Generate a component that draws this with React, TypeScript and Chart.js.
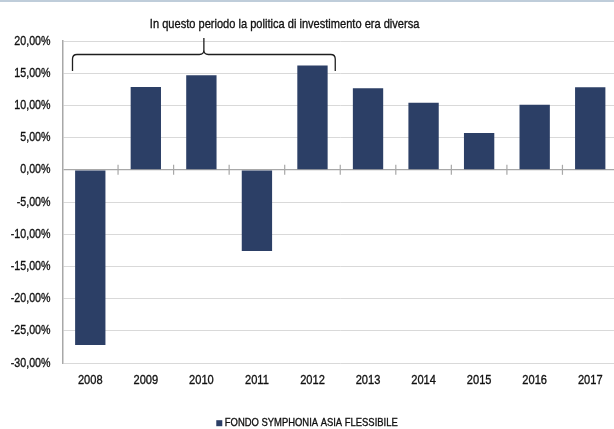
import React, { useEffect, useRef } from 'react';
import { Chart, registerables } from 'chart.js';

Chart.register(...registerables);

// ---- data ----
const categories = ['2008', '2009', '2010', '2011', '2012', '2013', '2014', '2015', '2016', '2017'];
const fundValues = [-27.2, 12.85, 14.7, -12.6, 16.2, 12.65, 10.4, 5.7, 10.1, 12.8];
const seriesLabel = 'FONDO SYMPHONIA ASIA FLESSIBILE';
const noteText = 'In questo periodo la politica di investimento era diversa';
const noteFrom = '2008';
const noteTo = '2012';
const yMin = -30;
const yMax = 20;
const yStep = 5;

// ---- styles ----
const FONT = "'Liberation Sans', Arial, sans-serif";
const SX = 0.82; // horizontal condensing of text
const TEXT = '#111111';
const BAR = '#2c3f66';
const VIEW_W = 614;
const VIEW_H = 429;
const CANVAS_W = 618;

const fmt = (v: number) => v.toFixed(2).replace('.', ',') + '%';

function drawText(
  ctx: CanvasRenderingContext2D,
  text: string,
  x: number,
  y: number,
  align: CanvasTextAlign,
  size: number
) {
  ctx.save();
  ctx.font = `${size}px ${FONT}`;
  ctx.fillStyle = TEXT;
  ctx.strokeStyle = TEXT;
  ctx.lineWidth = 0.35;
  ctx.textAlign = align;
  ctx.textBaseline = 'middle';
  ctx.translate(x, y);
  ctx.scale(SX, 1);
  ctx.fillText(text, 0, 0);
  ctx.strokeText(text, 0, 0);
  ctx.restore();
}

function textWidth(ctx: CanvasRenderingContext2D, text: string, size: number) {
  ctx.save();
  ctx.font = `${size}px ${FONT}`;
  const w = ctx.measureText(text).width * SX;
  ctx.restore();
  return w;
}

const topRulePlugin = {
  id: 'topRule',
  beforeDraw(chart: any) {
    const ctx = chart.ctx;
    ctx.save();
    ctx.fillStyle = '#ffffff';
    ctx.fillRect(0, 0, chart.width, chart.height);
    ctx.fillStyle = '#bfcdda';
    ctx.fillRect(0, 0, chart.width, 2);
    ctx.restore();
  },
};

const zeroTicksPlugin = {
  id: 'zeroTicks',
  beforeDatasetsDraw(chart: any) {
    const x = chart.scales.x;
    const y = chart.scales.y;
    const ctx = chart.ctx;
    const y0 = y.getPixelForValue(0);
    ctx.save();
    ctx.strokeStyle = '#a8a8a8';
    ctx.lineWidth = 1.2;
    for (let i = 1; i < categories.length; i++) {
      const px = (x.getPixelForValue(i - 1) + x.getPixelForValue(i)) / 2;
      ctx.beginPath();
      ctx.moveTo(px, y0 - 5);
      ctx.lineTo(px, y0 + 5);
      ctx.stroke();
    }
    ctx.restore();
  },
};

const tickLabelsPlugin = {
  id: 'tickLabels',
  afterDraw(chart: any) {
    const ctx = chart.ctx;
    const x = chart.scales.x;
    const y = chart.scales.y;
    const area = chart.chartArea;
    y.ticks.forEach((t: any, i: number) => {
      drawText(ctx, fmt(Number(t.value)), area.left - 12, y.getPixelForTick(i), 'right', 13);
    });
    x.ticks.forEach((t: any, i: number) => {
      drawText(ctx, String(categories[t.value]), x.getPixelForTick(i), area.bottom + 17, 'center', 13.5);
    });
  },
};

const bracePlugin = {
  id: 'brace',
  afterDraw(chart: any) {
    const x = chart.scales.x;
    const area = chart.chartArea;
    const ctx = chart.ctx;
    const cw = x.getPixelForValue(1) - x.getPixelForValue(0);
    const L = x.getPixelForValue(categories.indexOf(noteFrom)) - 0.32 * cw;
    const R = x.getPixelForValue(categories.indexOf(noteTo)) + 0.41 * cw;
    const C = (L + R) / 2;
    const yEnd = area.top + 30;
    const yLine = area.top + 13.5;
    const yPeak = area.top - 3;
    const r = 4.5;
    ctx.save();
    ctx.strokeStyle = '#1e1e1e';
    ctx.lineWidth = 1.3;
    ctx.beginPath();
    ctx.moveTo(L, yEnd);
    ctx.lineTo(L, yLine + r);
    ctx.quadraticCurveTo(L, yLine, L + r, yLine);
    ctx.lineTo(C - r, yLine);
    ctx.quadraticCurveTo(C, yLine, C, yLine - r);
    ctx.lineTo(C, yPeak);
    ctx.moveTo(C, yLine - r);
    ctx.quadraticCurveTo(C, yLine, C + r, yLine);
    ctx.lineTo(R - r, yLine);
    ctx.quadraticCurveTo(R, yLine, R, yLine + r);
    ctx.lineTo(R, yEnd);
    ctx.stroke();
    ctx.restore();

    drawText(ctx, noteText, C - 54, area.top - 17, 'left', 13.5);
  },
};

const legendPlugin = {
  id: 'customLegend',
  afterDraw(chart: any) {
    const ctx = chart.ctx;
    const label = chart.data.datasets[0].label as string;
    const size = 11.5;
    const tw = textWidth(ctx, label, size);
    const box = 6;
    const gap = 2.5;
    const total = box + gap + tw;
    const cy = chart.height - 5.8;
    const x0 = VIEW_W / 2 - total / 2;
    ctx.save();
    ctx.fillStyle = BAR;
    ctx.fillRect(x0, cy - box / 2, box, box);
    ctx.restore();
    drawText(ctx, label, x0 + box + gap, cy, 'left', size);
  },
};

export default function App() {
  const ref = useRef<HTMLCanvasElement | null>(null);

  useEffect(() => {
    if (!ref.current) return;
    const chart = new Chart(ref.current, {
      type: 'bar',
      data: {
        labels: categories,
        datasets: [
          {
            label: seriesLabel,
            data: fundValues,
            backgroundColor: BAR,
            borderWidth: 0,
            barPercentage: 0.546,
            categoryPercentage: 1,
          },
        ],
      },
      options: {
        animation: false,
        responsive: false,
        devicePixelRatio: 1,
        layout: { padding: { top: 41, left: 0, right: 0, bottom: 0 } },
        plugins: {
          legend: { display: false },
          tooltip: { enabled: false },
          title: { display: false },
        },
        scales: {
          x: {
            type: 'category',
            position: 'bottom',
            grid: { display: false, drawTicks: false },
            border: { display: false },
            ticks: { display: false },
            afterFit(scale: any) {
              scale.height = 66;
            },
          },
          y: {
            min: yMin,
            max: yMax,
            grid: {
              drawTicks: false,
              color: (c: any) => (c.tick && c.tick.value === 0 ? '#a8a8a8' : '#d9d9d9'),
              lineWidth: (c: any) => (c.tick && c.tick.value === 0 ? 1.2 : 1),
            },
            border: { display: true, color: '#a8a8a8', width: 1.5 },
            ticks: { display: false, stepSize: yStep },
            afterFit(scale: any) {
              scale.width = 62.5;
            },
          },
        },
      },
      plugins: [topRulePlugin, zeroTicksPlugin, tickLabelsPlugin, bracePlugin, legendPlugin],
    });
    return () => chart.destroy();
  }, []);

  return (
    <div
      style={{
        position: 'fixed',
        left: 0,
        top: 0,
        width: VIEW_W,
        height: VIEW_H,
        overflow: 'hidden',
        background: '#ffffff',
      }}
    >
      <canvas
        ref={ref}
        width={CANVAS_W}
        height={VIEW_H}
        style={{ width: CANVAS_W, height: VIEW_H, display: 'block' }}
      />
    </div>
  );
}
